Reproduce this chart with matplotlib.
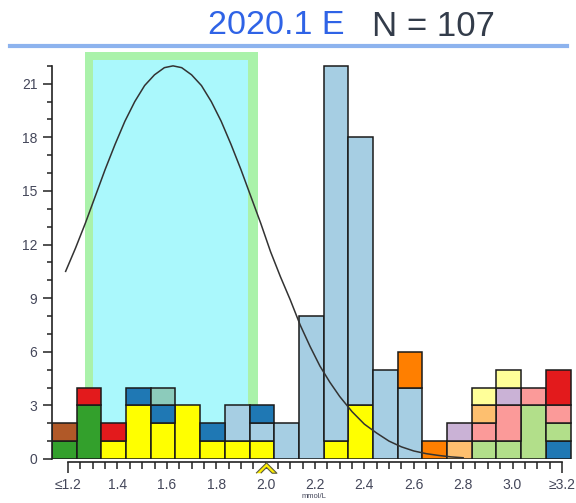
import numpy as np
import matplotlib
matplotlib.use("Agg")
import matplotlib.pyplot as plt
from matplotlib.lines import Line2D
from matplotlib.patches import Rectangle

plt.rcParams['font.family'] = ['Liberation Sans', 'DejaVu Sans']

# bins (0.1 mmol/L wide), end bins are open-ended
bin_centers = [1.2, 1.3, 1.4, 1.5, 1.6, 1.7, 1.8, 1.9, 2.0, 2.1, 2.2,
               2.3, 2.4, 2.5, 2.6, 2.7, 2.8, 2.9, 3.0, 3.1, 3.2]
tick_values = [1.2, 1.4, 1.6, 1.8, 2.0, 2.2, 2.4, 2.6, 2.8, 3.0, 3.2]
tick_labels = ['≤1.2', '1.4', '1.6', '1.8', '2.0', '2.2', '2.4', '2.6', '2.8', '3.0', '≥3.2']

# counts per bin for each method group, stacked bottom to top in this order
green      = [1, 3, 0, 0, 0, 0, 0, 0, 0, 0, 0, 0, 0, 0, 0, 0, 0, 0, 0, 0, 0]
brown      = [1, 0, 0, 0, 0, 0, 0, 0, 0, 0, 0, 0, 0, 0, 0, 0, 0, 0, 0, 0, 0]
yellow     = [0, 0, 1, 3, 2, 3, 1, 1, 1, 0, 0, 1, 3, 0, 0, 0, 0, 0, 0, 0, 0]
light_blue = [0, 0, 0, 0, 0, 0, 0, 2, 1, 2, 8, 21, 15, 5, 4, 0, 0, 0, 0, 0, 0]
dark_blue  = [0, 0, 0, 1, 1, 0, 1, 0, 1, 0, 0, 0, 0, 0, 0, 0, 0, 0, 0, 0, 1]
teal       = [0, 0, 0, 0, 1, 0, 0, 0, 0, 0, 0, 0, 0, 0, 0, 0, 0, 0, 0, 0, 0]
orange     = [0, 0, 0, 0, 0, 0, 0, 0, 0, 0, 0, 0, 0, 0, 2, 1, 0, 0, 0, 0, 0]
lt_green   = [0, 0, 0, 0, 0, 0, 0, 0, 0, 0, 0, 0, 0, 0, 0, 0, 0, 1, 1, 3, 1]
pink       = [0, 0, 0, 0, 0, 0, 0, 0, 0, 0, 0, 0, 0, 0, 0, 0, 0, 1, 2, 1, 1]
lt_orange  = [0, 0, 0, 0, 0, 0, 0, 0, 0, 0, 0, 0, 0, 0, 0, 0, 1, 1, 0, 0, 0]
lavender   = [0, 0, 0, 0, 0, 0, 0, 0, 0, 0, 0, 0, 0, 0, 0, 0, 1, 0, 1, 0, 0]
red        = [0, 1, 1, 0, 0, 0, 0, 0, 0, 0, 0, 0, 0, 0, 0, 0, 0, 0, 0, 0, 2]
pale_yel   = [0, 0, 0, 0, 0, 0, 0, 0, 0, 0, 0, 0, 0, 0, 0, 0, 0, 1, 1, 0, 0]

groups = [
    (green, '#33a02c'), (brown, '#b15928'), (yellow, '#ffff00'),
    (light_blue, '#a6cee3'), (dark_blue, '#1f78b4'), (teal, '#8ccbbb'),
    (orange, '#ff7f00'), (lt_green, '#b2df8a'), (pink, '#fb9a99'),
    (lt_orange, '#fdbf6f'), (lavender, '#cab2d6'), (red, '#e31a1c'),
    (pale_yel, '#ffff99'),
]

# fitted normal curve, read as points
curve_x = [1.19, 1.23, 1.27, 1.31, 1.35, 1.39, 1.43, 1.47, 1.51, 1.55,
           1.59, 1.625, 1.66, 1.70, 1.74, 1.78, 1.82, 1.86, 1.90, 1.94,
           1.98, 2.02, 2.06, 2.10, 2.14, 2.18, 2.22, 2.26, 2.30, 2.35,
           2.40, 2.45, 2.50, 2.55, 2.60, 2.65, 2.70, 2.75, 2.80]
curve_y = [10.5, 11.8, 13.2, 14.7, 16.2, 17.6, 18.9, 20.0, 20.9, 21.5,
           21.9, 22.0, 21.9, 21.5, 20.9, 20.0, 18.9, 17.6, 16.2, 14.7,
           13.2, 11.6, 10.2, 8.9, 7.5, 6.3, 5.2, 4.3, 3.5, 2.65,
           1.95, 1.45, 1.0, 0.68, 0.45, 0.3, 0.2, 0.12, 0.07]

# target range
range_lo, range_hi = 1.268, 1.969

fig = plt.figure(figsize=(5.76, 5.03), dpi=100)
ax = fig.add_axes([52 / 576, 44 / 503, 521 / 576, 411 / 503])
ax.set_xlim(1.1348, 3.245)
ax.set_ylim(0, 23)

ax.add_patch(Rectangle((range_lo, 0), range_hi - range_lo, 22.8,
                       facecolor='#aaf2aa', edgecolor='none', zorder=0, clip_on=False))
ax.add_patch(Rectangle((range_lo + 0.034, 0), range_hi - range_lo - 0.074, 22.35,
                       facecolor='#aaf8fc', edgecolor='none', zorder=0.5, clip_on=False))

x = np.array(bin_centers) - 0.015
bottom = np.zeros(len(bin_centers))
for counts, color in groups:
    counts = np.array(counts, dtype=float)
    m = counts > 0
    ax.bar(x[m], counts[m], width=0.1, bottom=bottom[m], color=color,
           edgecolor='#1a1a1a', linewidth=1.1, zorder=2)
    bottom += counts

ax.plot(curve_x, curve_y, color='#333333', lw=1.1, zorder=3)

for side in ['top', 'right']:
    ax.spines[side].set_visible(False)
ax.spines['left'].set_bounds(0, 22)
ax.spines['bottom'].set_bounds(1.2, 3.2)
ax.spines['bottom'].set_position(('outward', 2))
for side in ['left', 'bottom']:
    ax.spines[side].set_linewidth(1.2)
    ax.spines[side].set_color('#222222')

ax.set_yticks(np.arange(0, 22, 3))
ax.set_yticks(np.arange(0, 23, 1), minor=True)
ax.tick_params(axis='y', which='major', length=6.5, width=1.1, pad=4,
               labelsize=10, labelcolor='#44475a', color='#222222')
ax.tick_params(axis='y', which='minor', length=3.6, width=1.1, color='#222222')

ax.set_xticks([tick_values[0], tick_values[-1]], [tick_labels[0], tick_labels[-1]])
minor_pos = np.round(np.arange(1.25, 3.2, 0.05), 2)
minor_lab = [tick_labels[tick_values.index(v)] if v in tick_values else '' for v in minor_pos]
ax.set_xticks(minor_pos, minor_lab, minor=True)
ax.tick_params(axis='x', which='major', length=8, width=1.1, pad=4,
               labelsize=10, labelcolor='#44475a', color='#222222')
ax.tick_params(axis='x', which='minor', length=5, width=1.1, pad=7,
               labelsize=10, labelcolor='#44475a', color='#222222')

ax.set_xlabel('mmol/L', fontsize=5.5, color='#44475a')
ax.xaxis.set_label_coords(0.503, -0.083)

# marker for the target value
chevron = [(-1, -0.55), (0, 0.45), (1, -0.55), (0.55, -0.55), (0, 0.0), (-0.55, -0.55)]
ax.plot([2.0], [-0.45], marker=chevron, markersize=15, color='#ffee00',
        markeredgecolor='#5a5a40', markeredgewidth=0.8, clip_on=False, zorder=4)

fig.text(208 / 576, 1 - 34 / 503, '2020.1 E', fontsize=24.5, color='#2f63e6', va='baseline')
fig.text(372 / 576, 1 - 36 / 503, 'N = 107', fontsize=25, color='#333c4a', va='baseline')
fig.add_artist(Line2D([10 / 576, 567 / 576], [1 - 46 / 503, 1 - 46 / 503],
                      color='#8db3ee', lw=3, transform=fig.transFigure))

fig.savefig('out.png', dpi=100)
